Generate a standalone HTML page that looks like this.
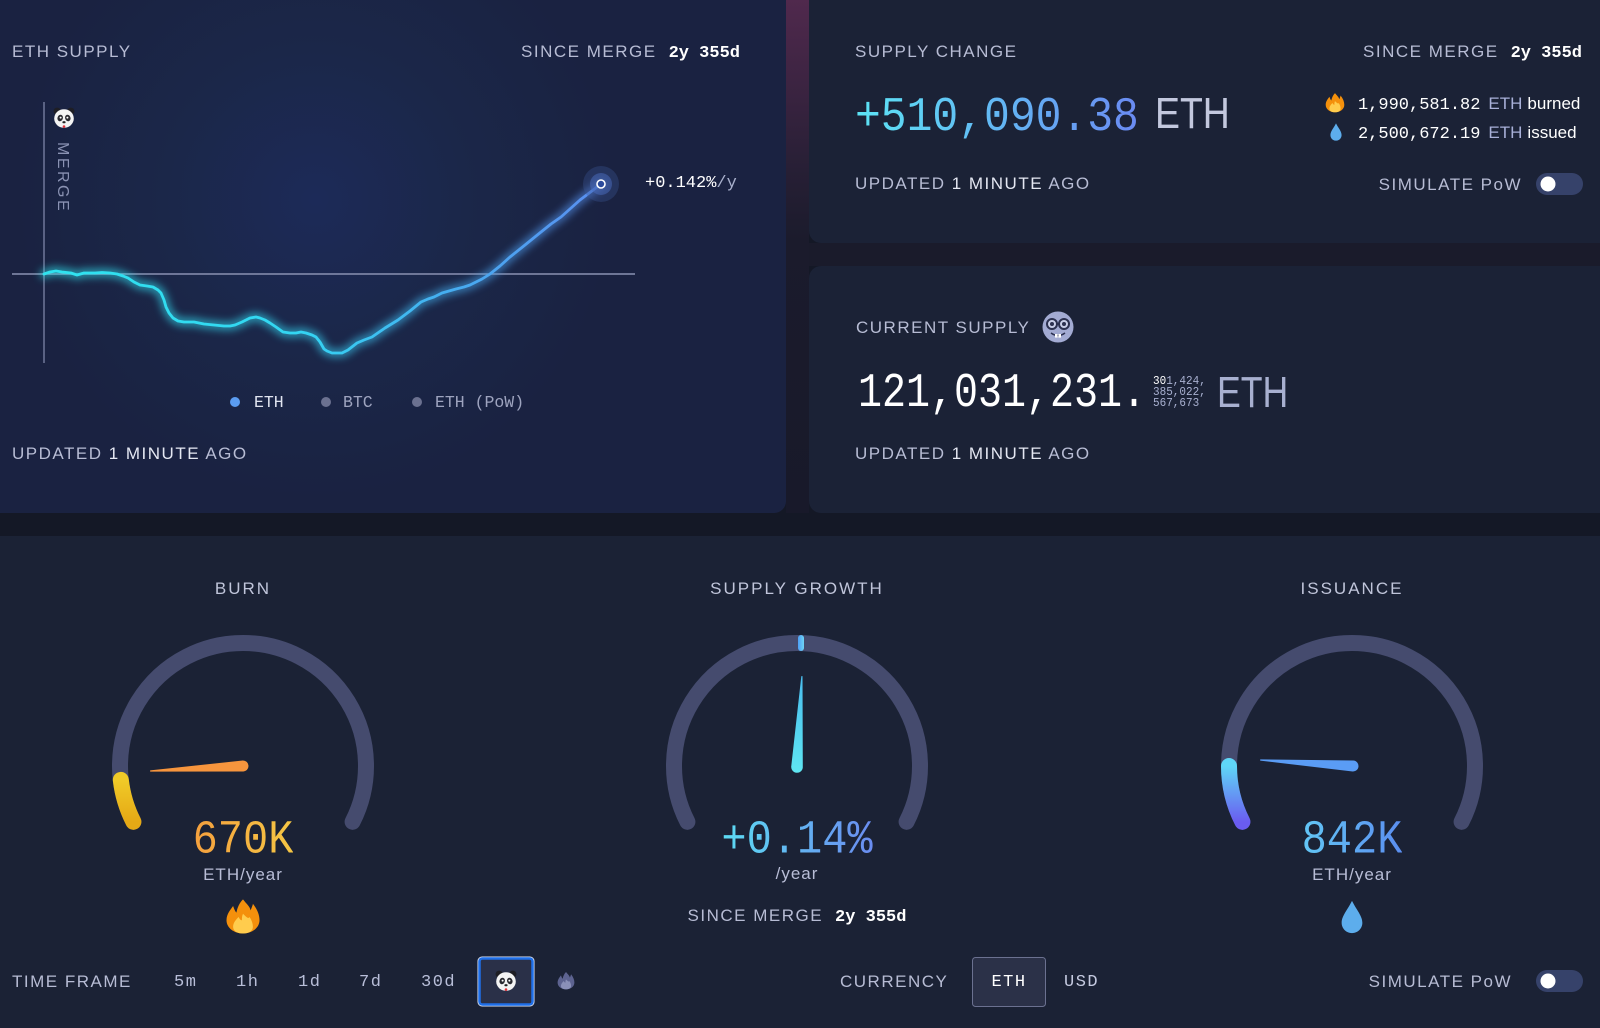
<!DOCTYPE html>
<html><head><meta charset="utf-8">
<style>
*{margin:0;padding:0;box-sizing:border-box}
html,body{width:1600px;height:1028px;overflow:hidden;background:#141826}
body{position:relative;font-family:"Liberation Sans",sans-serif}
.a{position:absolute;white-space:nowrap;line-height:1}
.s{font-family:"Liberation Sans",sans-serif;font-size:17px;line-height:17px;letter-spacing:1.5px;color:#b7bcd4}
.m{font-family:"Liberation Mono",monospace}
.hi{color:#e4e7f2}
.b{font-family:"Liberation Mono",monospace;font-weight:bold;color:#fff;letter-spacing:0}
.c{text-align:center;width:600px}
.gt{display:inline-block;-webkit-background-clip:text;background-clip:text;color:transparent}
svg{position:absolute;left:0;top:0}
</style></head><body>

<!-- backgrounds -->
<div style="position:absolute;left:0;top:0;width:786px;height:513px;border-radius:0 0 12px 0;background:radial-gradient(circle 300px at 315px 200px,#1c2a58 0%,#1b2749 50%,#1a2241 100%)"></div>
<div style="position:absolute;left:786px;top:0;width:23px;height:513px;background:linear-gradient(to bottom,#50294d 0px,#3d2442 80px,#271f35 170px,#1b1b2c 240px,#18192a 513px)"></div>
<div style="position:absolute;left:809px;top:243px;width:791px;height:23px;background:#1a1b2b"></div>
<div style="position:absolute;left:809px;top:0;width:791px;height:243px;border-radius:0 0 0 12px;background:#1b2236"></div>
<div style="position:absolute;left:809px;top:266px;width:791px;height:247px;border-radius:12px 0 0 12px;background:#1b2236"></div>
<div style="position:absolute;left:0;top:536px;width:1600px;height:492px;background:#1b2235"></div>

<svg width="1600" height="1028" viewBox="0 0 1600 1028" xmlns="http://www.w3.org/2000/svg">
  <defs>
    <linearGradient id="lg" gradientUnits="userSpaceOnUse" x1="44" y1="0" x2="601" y2="0">
      <stop offset="0" stop-color="#2fe3ef"/>
      <stop offset="0.45" stop-color="#33d6f2"/>
      <stop offset="0.72" stop-color="#45aef0"/>
      <stop offset="1" stop-color="#5a8ef0"/>
    </linearGradient>
    <filter id="gl" x="-20%" y="-50%" width="140%" height="200%"><feGaussianBlur stdDeviation="4"/></filter>
    <linearGradient id="yel" x1="0" y1="0" x2="0" y2="1"><stop offset="0" stop-color="#f0ca28"/><stop offset="1" stop-color="#e5a915"/></linearGradient>
    <linearGradient id="iss" x1="0" y1="0" x2="0" y2="1"><stop offset="0" stop-color="#5fd6f7"/><stop offset="1" stop-color="#6a5cf0"/></linearGradient>
    <linearGradient id="mk" x1="0" y1="0" x2="1" y2="0"><stop offset="0" stop-color="#4e9ff5"/><stop offset="1" stop-color="#6fd4f5"/></linearGradient>
    <linearGradient id="sn" x1="0" y1="0" x2="1" y2="0"><stop offset="0" stop-color="#5fe6f2"/><stop offset="1" stop-color="#49bdee"/></linearGradient>
  </defs>

  <!-- chart axes -->
  <line x1="44" y1="102" x2="44" y2="363" stroke="#6f7799" stroke-width="1.5"/>
  <line x1="12" y1="274" x2="635" y2="274" stroke="#8a91b2" stroke-width="1.5"/>

  <!-- chart line glow + line -->
  <polyline fill="none" stroke="url(#lg)" stroke-width="9" opacity="0.6" filter="url(#gl)" stroke-linejoin="round" stroke-linecap="round"
    points="44,274 50,272 56,271 62,272 71,273 77,275 84,273 95,273 102,272.5 110,273 117,274 123,276 128,278 134,282 140,285 147,286 153,287 158,290 161,293 164,300 166,307 169,313 173,318 178,321 184,322 190,322 194,322 199,323 204,324 214,325 224,326 230,326 235,325 242,322 250,318 256,317 260,318 265,320 270,323 276,327 283,332 290,333 296,333 301,332 306,333 312,335 316,337 320,342 324,349 327,351 332,353 337,353 342,353 348,350 357,343 364,340 372,337 385,328 398,320 410,311 421,302 428,299 434,297 442,293 449,291 456,289 464,287 470,285 474,283 482,279 490,274 500,266 510,257 525,245 541,232 551,224 561,217 580,200 601,184"/>
  <polyline fill="none" stroke="url(#lg)" stroke-width="2.8" stroke-linejoin="round" stroke-linecap="round"
    points="44,274 50,272 56,271 62,272 71,273 77,275 84,273 95,273 102,272.5 110,273 117,274 123,276 128,278 134,282 140,285 147,286 153,287 158,290 161,293 164,300 166,307 169,313 173,318 178,321 184,322 190,322 194,322 199,323 204,324 214,325 224,326 230,326 235,325 242,322 250,318 256,317 260,318 265,320 270,323 276,327 283,332 290,333 296,333 301,332 306,333 312,335 316,337 320,342 324,349 327,351 332,353 337,353 342,353 348,350 357,343 364,340 372,337 385,328 398,320 410,311 421,302 428,299 434,297 442,293 449,291 456,289 464,287 470,285 474,283 482,279 490,274 500,266 510,257 525,245 541,232 551,224 561,217 580,200 601,184"/>
  <circle cx="601" cy="184" r="18" fill="#3d5596" opacity="0.35"/>
  <circle cx="601" cy="184" r="11" fill="#4a6bbd" opacity="0.5"/>
  <circle cx="601" cy="184" r="4" fill="#2b4a9c" stroke="#ffffff" stroke-width="1.6"/>

  <!-- merge label -->
  <text x="0" y="0" transform="translate(58,142) rotate(90)" font-family="Liberation Sans, sans-serif" font-size="16" letter-spacing="2.5" fill="#8a92b3">MERGE</text>

  <!-- panda (chart) -->
  <g transform="translate(64,118)">
    <circle cx="-6.8" cy="-6.8" r="3.6" fill="#1e1e24"/><circle cx="6.8" cy="-6.8" r="3.6" fill="#1e1e24"/>
    <ellipse cx="0" cy="0.5" rx="9.8" ry="9.3" fill="#f4f4f4"/>
    <ellipse cx="-3.8" cy="0" rx="2.7" ry="3.3" fill="#2a2a30" transform="rotate(20 -3.8 0)"/>
    <ellipse cx="3.8" cy="0" rx="2.7" ry="3.3" fill="#2a2a30" transform="rotate(-20 3.8 0)"/>
    <circle cx="-3.4" cy="-0.4" r="1" fill="#fff"/><circle cx="3.4" cy="-0.4" r="1" fill="#fff"/>
    <ellipse cx="0" cy="4.2" rx="1.6" ry="1.1" fill="#222"/>
    <circle cx="0" cy="8.6" r="1.3" fill="#e2323a"/>
  </g>

  <!-- legend dots -->
  <circle cx="235" cy="402" r="5" fill="#5b9cf0"/>
  <circle cx="326" cy="402" r="5" fill="#6b7190"/>
  <circle cx="417" cy="402" r="5" fill="#6b7190"/>

  <!-- top right fire + drop -->
  <g transform="translate(1335,103) scale(0.62)">
    <path d="M0,-16 C3,-12 6,-10 7,-6 C8,-9 9,-11 9,-12 C13,-7 15,-2 15,3 C15,10 8,15 0,15 C-8,15 -15,10 -15,3 C-15,-3 -11,-7 -9,-10 C-8,-7 -7,-5 -6,-4 C-5,-9 -3,-13 0,-16 Z" fill="#f4900c"/>
    <path d="M0,-3 C3,0 5,2 6,0 C8,3 9,6 9,9 C9,13 5,15 0,15 C-5,15 -9,13 -9,9 C-9,5 -6,2 -4,0 C-3,2 -2,3 -1,3 C-1,1 -1,-1 0,-3 Z" fill="#ffcc4d"/>
  </g>
  <g transform="translate(1336,132) scale(0.62)">
    <path d="M0,-14 C4,-6 9,-1 9,5 C9,10 5,14 0,14 C-5,14 -9,10 -9,5 C-9,-1 -4,-6 0,-14 Z" fill="#5dadec"/>
  </g>

  <!-- toggles -->
  <rect x="1536" y="173" width="47" height="22" rx="11" fill="#36426a"/>
  <circle cx="1548" cy="184" r="7.5" fill="#ffffff"/>
  <rect x="1536" y="970" width="47" height="22" rx="11" fill="#36426a"/>
  <circle cx="1548" cy="981" r="7.5" fill="#ffffff"/>

  <!-- nerd face -->
  <g transform="translate(1058,327)">
    <circle r="15.5" fill="#a3abd3"/>
    <circle cx="-6" cy="-3" r="5" fill="#c9cee8" stroke="#2c3150" stroke-width="2"/>
    <circle cx="6" cy="-3" r="5" fill="#c9cee8" stroke="#2c3150" stroke-width="2"/>
    <line x1="-1" y1="-3" x2="1" y2="-3" stroke="#2c3150" stroke-width="2"/>
    <circle cx="-6" cy="-3" r="2" fill="#2c3150"/><circle cx="6" cy="-3" r="2" fill="#2c3150"/>
    <path d="M-7,6 Q0,11 7,6" fill="none" stroke="#2c3150" stroke-width="1.6"/>
    <rect x="-3" y="7" width="2.6" height="3.6" fill="#fff"/><rect x="0.4" y="7" width="2.6" height="3.6" fill="#fff"/>
  </g>

  <!-- gauges tracks -->
  <path d="M133.4 821.8 A 123 123 0 1 1 352.6 821.8" fill="none" stroke="#454b6e" stroke-width="16" stroke-linecap="round"/>
  <path d="M687.4 821.8 A 123 123 0 1 1 906.6 821.8" fill="none" stroke="#454b6e" stroke-width="16" stroke-linecap="round"/>
  <path d="M1242.4 821.8 A 123 123 0 1 1 1461.6 821.8" fill="none" stroke="#454b6e" stroke-width="16" stroke-linecap="round"/>

  <!-- burn colored arc -->
  <path d="M133.4 821.8 A 123 123 0 0 1 120.8 779.9" fill="none" stroke="url(#yel)" stroke-width="16" stroke-linecap="round"/>
  <!-- issuance colored arc -->
  <path d="M1242.4 821.8 A 123 123 0 0 1 1229 766" fill="none" stroke="url(#iss)" stroke-width="16" stroke-linecap="round"/>
  <!-- supply marker -->
  <rect x="798" y="635" width="6" height="16" rx="3" fill="url(#mk)"/>

  <!-- needles -->
  <path transform="translate(243,766) rotate(176.9)" d="M0,-5.5 L93,-0.6 L93,0.6 L0,5.5 A5.5,5.5 0 0 1 0,-5.5 Z" fill="#f7953d"/>
  <path transform="translate(797,767) rotate(-86.9)" d="M0,-5.8 L91,-0.6 L91,0.6 L0,5.8 A5.8,5.8 0 0 1 0,-5.8 Z" fill="url(#sn)"/>
  <path transform="translate(1353,766) rotate(183.7)" d="M0,-5.5 L93,-0.6 L93,0.6 L0,5.5 A5.5,5.5 0 0 1 0,-5.5 Z" fill="#5a9cf5"/>

  <!-- bottom burn fire -->
  <g transform="translate(243,917) scale(1.1)">
    <path d="M0,-16 C3,-12 6,-10 7,-6 C8,-9 9,-11 9,-12 C13,-7 15,-2 15,3 C15,10 8,15 0,15 C-8,15 -15,10 -15,3 C-15,-3 -11,-7 -9,-10 C-8,-7 -7,-5 -6,-4 C-5,-9 -3,-13 0,-16 Z" fill="#f4900c"/>
    <path d="M0,-3 C3,0 5,2 6,0 C8,3 9,6 9,9 C9,13 5,15 0,15 C-5,15 -9,13 -9,9 C-9,5 -6,2 -4,0 C-3,2 -2,3 -1,3 C-1,1 -1,-1 0,-3 Z" fill="#ffcc4d"/>
  </g>
  <!-- bottom drop -->
  <g transform="translate(1352,917) scale(1.15)">
    <path d="M0,-14 C4,-6 9,-1 9,5 C9,10 5,14 0,14 C-5,14 -9,10 -9,5 C-9,-1 -4,-6 0,-14 Z" fill="#5dadec"/>
  </g>

  <!-- time frame panda button -->
  <rect x="478" y="957" width="56" height="49" rx="4" fill="#2a3048" stroke="#dfe6f5" stroke-width="1"/>
  <rect x="479.5" y="958.5" width="53" height="46" rx="3" fill="none" stroke="#1f6fe8" stroke-width="2.5"/>
  <g transform="translate(506,981)">
    <circle cx="-6.8" cy="-6.8" r="3.6" fill="#1e1e24"/><circle cx="6.8" cy="-6.8" r="3.6" fill="#1e1e24"/>
    <ellipse cx="0" cy="0.5" rx="9.8" ry="9.3" fill="#f4f4f4"/>
    <ellipse cx="-3.8" cy="0" rx="2.7" ry="3.3" fill="#2a2a30" transform="rotate(20 -3.8 0)"/>
    <ellipse cx="3.8" cy="0" rx="2.7" ry="3.3" fill="#2a2a30" transform="rotate(-20 3.8 0)"/>
    <circle cx="-3.4" cy="-0.4" r="1" fill="#fff"/><circle cx="3.4" cy="-0.4" r="1" fill="#fff"/>
    <ellipse cx="0" cy="4.2" rx="1.6" ry="1.1" fill="#222"/>
    <circle cx="0" cy="8.6" r="1.3" fill="#e2323a"/>
  </g>
  <!-- gray flame -->
  <g transform="translate(566,981) scale(0.56)">
    <path d="M0,-16 C3,-12 6,-10 7,-6 C8,-9 9,-11 9,-12 C13,-7 15,-2 15,3 C15,10 8,15 0,15 C-8,15 -15,10 -15,3 C-15,-3 -11,-7 -9,-10 C-8,-7 -7,-5 -6,-4 C-5,-9 -3,-13 0,-16 Z" fill="#5d6390"/>
    <path d="M0,-3 C3,0 5,2 6,0 C8,3 9,6 9,9 C9,13 5,15 0,15 C-5,15 -9,13 -9,9 C-9,5 -6,2 -4,0 C-3,2 -2,3 -1,3 C-1,1 -1,-1 0,-3 Z" fill="#8a90b8"/>
  </g>
  <!-- ETH currency box -->
  <rect x="972.5" y="957.5" width="73" height="49" rx="3" fill="#2b3148" stroke="#6b7190" stroke-width="1"/>
</svg>

<!-- LEFT CARD TEXT -->
<div class="a s" style="left:12px;top:43px">ETH SUPPLY</div>
<div class="a s" style="right:860px;top:43px">SINCE MERGE<span class="b" style="margin-left:12px;font-size:17px">2y 355d</span></div>
<div class="a m" style="left:645px;top:175px;font-size:17px;color:#fff">+0.142%<span style="color:#a8b0cc">/y</span></div>
<div class="a m" style="left:254px;top:395px;font-size:16.5px;color:#e0e4f0">ETH</div>
<div class="a m" style="left:343px;top:395px;font-size:16.5px;color:#9ea4bf">BTC</div>
<div class="a m" style="left:435px;top:395px;font-size:16.5px;color:#9ea4bf">ETH (PoW)</div>
<div class="a s" style="left:12px;top:445px">UPDATED <span class="hi">1 MINUTE</span> AGO</div>

<!-- RIGHT TOP CARD -->
<div class="a s" style="left:855px;top:43px">SUPPLY CHANGE</div>
<div class="a s" style="right:18px;top:43px">SINCE MERGE<span class="b" style="margin-left:12px;font-size:17px">2y 355d</span></div>
<div class="a m" style="left:855px;top:95px;font-size:43px;line-height:43px"><span class="gt" style="background-image:linear-gradient(90deg,#5ce4f5,#6a8af2);transform:scaleY(1.13);transform-origin:50% 45%">+510,090.38</span></div>
<div class="a" style="left:1155px;top:92px;font-size:44px;line-height:44px;color:#c3c8de;transform:scaleX(0.85);transform-origin:0 50%">ETH</div>
<div class="a" style="left:1358px;top:95px;font-size:17px;line-height:17px"><span class="m" style="color:#fff">1,990,581.82</span><span style="color:#a8b0d8;margin-left:8px">ETH</span><span style="color:#fff;margin-left:5px">burned</span></div>
<div class="a" style="left:1358px;top:124px;font-size:17px;line-height:17px"><span class="m" style="color:#fff">2,500,672.19</span><span style="color:#a8b0d8;margin-left:8px">ETH</span><span style="color:#fff;margin-left:5px">issued</span></div>
<div class="a s" style="left:855px;top:175px">UPDATED <span class="hi">1 MINUTE</span> AGO</div>
<div class="a s" style="right:78px;top:176px">SIMULATE PoW</div>

<!-- RIGHT BOTTOM CARD -->
<div class="a s" style="left:856px;top:319px">CURRENT SUPPLY</div>
<div class="a m" style="left:858px;top:375px;font-size:40px;line-height:40px;color:#fff;transform:scaleY(1.2);transform-origin:50% 45%">121,031,231.</div>
<div class="a m" style="left:1153px;top:377px;font-size:11px;line-height:11px;color:#a8b0d0;transform:scaleY(1.1)"><span style="color:#fff">30</span>1,424,</div>
<div class="a m" style="left:1153px;top:388px;font-size:11px;line-height:11px;color:#a8b0d0;transform:scaleY(1.1)">385,022,</div>
<div class="a m" style="left:1153px;top:399px;font-size:11px;line-height:11px;color:#a8b0d0;transform:scaleY(1.1)">567,673</div>
<div class="a" style="left:1217px;top:371px;font-size:44px;line-height:44px;color:#a8b0d0;transform:scaleX(0.81);transform-origin:0 50%">ETH</div>
<div class="a s" style="left:855px;top:445px">UPDATED <span class="hi">1 MINUTE</span> AGO</div>

<!-- GAUGE LABELS -->
<div class="a s c" style="left:-57px;top:580px;color:#c0c5da;letter-spacing:2px">BURN</div>
<div class="a s c" style="left:497px;top:580px;color:#c0c5da;letter-spacing:2px">SUPPLY GROWTH</div>
<div class="a s c" style="left:1052px;top:580px;color:#c0c5da;letter-spacing:2px">ISSUANCE</div>

<div class="a m c" style="left:-57px;top:819px;font-size:42px;line-height:42px"><span class="gt" style="background-image:linear-gradient(90deg,#f5a03e,#f5c644);transform:scaleY(1.12);transform-origin:50% 45%">670K</span></div>
<div class="a m c" style="left:497px;top:819px;font-size:42px;line-height:42px"><span class="gt" style="background-image:linear-gradient(90deg,#5cdcf3,#6a8cf0);transform:scaleY(1.12);transform-origin:50% 45%">+0.14%</span></div>
<div class="a m c" style="left:1052px;top:819px;font-size:42px;line-height:42px"><span class="gt" style="background-image:linear-gradient(90deg,#62c6f5,#5b8ef0);transform:scaleY(1.12);transform-origin:50% 45%">842K</span></div>

<div class="a s c" style="left:-57px;top:866px;letter-spacing:1px;color:#b8bdd6">ETH/year</div>
<div class="a s c" style="left:497px;top:865px;letter-spacing:1px;color:#b8bdd6">/year</div>
<div class="a s c" style="left:1052px;top:866px;letter-spacing:1px;color:#b8bdd6">ETH/year</div>
<div class="a s c" style="left:497px;top:907px">SINCE MERGE<span class="b" style="margin-left:12px;font-size:17px">2y 355d</span></div>

<!-- BOTTOM BAR -->
<div class="a s" style="left:12px;top:973px">TIME FRAME</div>
<div class="a m" style="left:174px;top:974px;font-size:17px;letter-spacing:1.5px;color:#b8bed8">5m</div>
<div class="a m" style="left:236px;top:974px;font-size:17px;letter-spacing:1.5px;color:#b8bed8">1h</div>
<div class="a m" style="left:298px;top:974px;font-size:17px;letter-spacing:1.5px;color:#b8bed8">1d</div>
<div class="a m" style="left:359px;top:974px;font-size:17px;letter-spacing:1.5px;color:#b8bed8">7d</div>
<div class="a m" style="left:421px;top:974px;font-size:17px;letter-spacing:1.5px;color:#b8bed8">30d</div>
<div class="a s" style="left:840px;top:973px">CURRENCY</div>
<div class="a m" style="left:972px;width:74px;text-align:center;top:974px;font-size:17px;letter-spacing:1.5px;color:#fff">ETH</div>
<div class="a m" style="left:1064px;top:974px;font-size:17px;letter-spacing:1.5px;color:#c5cae0">USD</div>
<div class="a s" style="right:88px;top:973px">SIMULATE PoW</div>

</body></html>
